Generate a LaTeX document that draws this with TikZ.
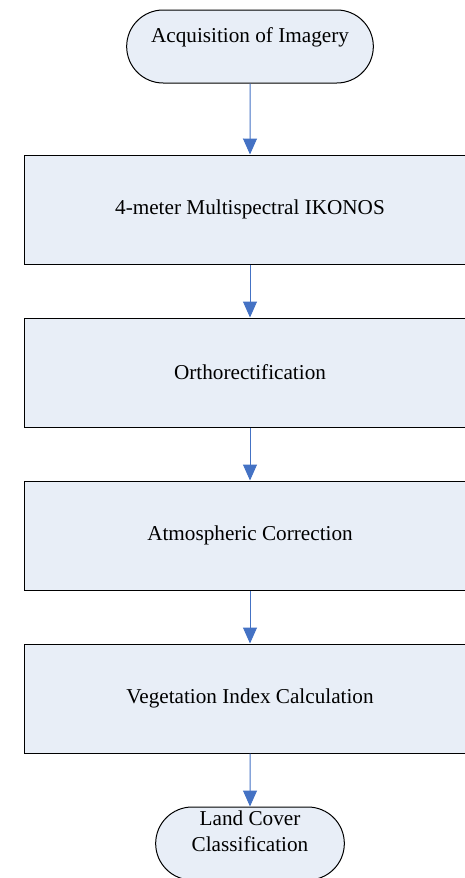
\documentclass[tikz,border=0pt]{standalone}
\usepackage{fontspec}
\setmainfont{Liberation Serif}
\usetikzlibrary{shapes.misc,arrows.meta,positioning}
\definecolor{boxfill}{RGB}{232,238,247}
\definecolor{flowblue}{RGB}{68,114,196}

\begin{document}
\begin{tikzpicture}[node distance=81.5pt,auto,>={Triangle[width=7pt,length=8pt]},
    every node/.style={font=\fontsize{10.6}{12.7}\selectfont},
    stepbox/.style={draw=black, line width=0.5pt, fill=boxfill, minimum width=226pt, minimum height=54.5pt},
    termbox/.style={rounded rectangle, draw=black, line width=0.5pt, fill=boxfill, minimum height=36.5pt, text height=8pt, inner ysep=0pt},
    flow/.style={->, color=flowblue, line width=0.5pt}]
    \clip (0,0) rectangle (232.5pt,-439pt);
    \node (acq) [termbox, minimum width=130pt, text depth=12.3pt] at (125pt,-23.25pt) {Acquisition of Imagery};
    %%%%%%%%%
    \node (ms) [stepbox, below of=acq] {4-meter Multispectral IKONOS};
        \node (ortho) [stepbox, below of=ms] {Orthorectification};
        \node (atm) [stepbox, below of=ortho] {Atmospheric Correction};
        \node (veg) [stepbox, below of=atm] {Vegetation Index Calculation};
    %%%%%%%%%
    \node (lcc) [termbox, minimum width=101pt, text depth=12.8pt, below of=veg, node distance=72.5pt]{\begin{tabular}{c}
     Land Cover \\
     Classification \\
  \end{tabular}};
            \draw[flow] (acq) edge (ms);
            \draw[flow] (ms) edge (ortho);
            \draw[flow] (ortho) edge (atm);
            \draw[flow] (atm) edge (veg);
            \draw[flow] (veg) edge (lcc);
\end{tikzpicture}
\end{document}
